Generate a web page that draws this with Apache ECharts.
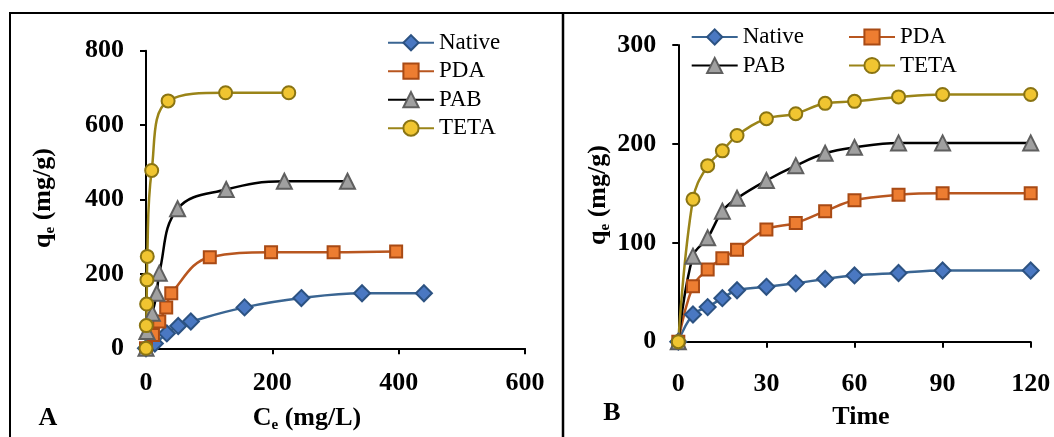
<!DOCTYPE html>
<html>
<head>
<meta charset="utf-8">
<script src="https://cdn.jsdelivr.net/npm/echarts@6/dist/echarts.min.js"></script>
<style>html,body{margin:0;padding:0;background:#fff}#c{width:1054px;height:437px}</style>
</head>
<body>
<div id="c"></div>
<script>
// Panel A: isotherm (Ce mg/L vs qe mg/g)
var seriesNames = ['Native', 'PDA', 'PAB', 'TETA'];
var ceNative = [0, 14, 33, 51, 71, 156, 246, 342, 440];
var qeNative = [0, 13, 40, 60, 72, 110, 135, 148, 148];
var cePDA = [0, 11, 21, 32, 40, 101, 198, 297, 396];
var qePDA = [0, 36, 72, 110, 148, 245, 258, 258, 260];
var cePAB = [0, 1.5, 10, 17, 21, 50, 127, 219, 319];
var qePAB = [0, 45, 94, 148, 202, 375, 427, 449, 449];
var ceTETA = [0, 0.5, 1, 1.5, 2, 9, 35, 126, 226];
var qeTETA = [0, 61, 119, 184, 247, 478, 665, 687, 687];

// Panel B: kinetics (time vs qe)
var time = [0, 5, 10, 15, 20, 30, 40, 50, 60, 75, 90, 120];
var qtNative = [0, 27.5, 35, 44, 52, 55.5, 59, 63.5, 67, 69.5, 72, 72];
var qtPDA = [0, 56, 73, 84.5, 93, 113.5, 120, 132, 143, 148.5, 150, 150];
var qtPAB = [0, 86.5, 105, 132, 145, 163, 178, 190.5, 196.5, 201, 201, 201];
var qtTETA = [0, 144, 178, 193, 208.5, 225.5, 230.5, 241, 243, 247.5, 250, 250];

var ticksA_x = [0, 200, 400, 600];
var ticksA_y = [0, 200, 400, 600, 800];
var ticksB_x = [0, 30, 60, 90, 120];
var ticksB_y = [0, 100, 200, 300];

function zip(a, b) { return a.map(function (v, i) { return [v, b[i]]; }); }

var styles = {
  Native: { line: '#3a6592', fill: '#4a78c2', border: '#2c5282', symbol: 'diamond', size: 16 },
  PDA: { line: '#b8561f', fill: '#ed7d31', border: '#a84a14', symbol: 'rect', size: 12 },
  PAB: { line: '#000000', fill: '#a0a0a0', border: '#5f5f5f', symbol: 'triangle', size: 15 },
  TETA: { line: '#9a8418', fill: '#f0c531', border: '#8a7413', symbol: 'circle', size: 13 }
};

var FONT = 'Liberation Serif';

function mk(name, data, axisIdx) {
  var s = styles[name];
  return {
    name: name, type: 'line', data: data,
    xAxisIndex: axisIdx, yAxisIndex: axisIdx,
    smooth: 0.4,
    symbol: s.symbol, symbolSize: s.size,
    lineStyle: { color: s.line, width: 2.5 },
    itemStyle: { color: s.fill, borderColor: s.border, borderWidth: 2 },
    emphasis: { disabled: true },
    animation: false
  };
}

var dataA = {
  Native: zip(ceNative, qeNative), PDA: zip(cePDA, qePDA),
  PAB: zip(cePAB, qePAB), TETA: zip(ceTETA, qeTETA)
};
var dataB = {
  Native: zip(time, qtNative), PDA: zip(time, qtPDA),
  PAB: zip(time, qtPAB), TETA: zip(time, qtTETA)
};

var series = [];
seriesNames.forEach(function (n) { series.push(mk(n, dataA[n], 0)); });
seriesNames.forEach(function (n) { series.push(mk(n, dataB[n], 1)); });

function valAxis(ticks, extra) {
  var o = {
    type: 'value',
    min: ticks[0], max: ticks[ticks.length - 1],
    interval: ticks[1] - ticks[0],
    axisLine: { show: true, lineStyle: { color: '#000', width: 2 } },
    axisTick: { show: true, inside: false, length: 6, lineStyle: { color: '#000', width: 2 } },
    splitLine: { show: false },
    axisLabel: { color: '#000', fontFamily: FONT, fontWeight: 'bold', fontSize: 26 }
  };
  for (var k in extra) o[k] = extra[k];
  return o;
}

var legendText = { color: '#000', fontFamily: FONT, fontSize: 23, lineHeight: 24 };
function legend(items, left, top) {
  return {
    data: items, left: left, top: top, orient: 'vertical',
    itemWidth: 46, itemHeight: 19, itemGap: 4.5,
    textStyle: legendText, selectedMode: false, padding: 0
  };
}

var rich = {
  b: { fontFamily: FONT, fontWeight: 'bold', fontSize: 26, fill: '#000', color: '#000' },
  s: { fontFamily: FONT, fontWeight: 'bold', fontSize: 15, fill: '#000', color: '#000', padding: [14, 0, 0, 0] }
};

function titleText(x, y, text, rot) {
  return {
    type: 'text', x: x, y: y, rotation: rot || 0,
    style: { text: text, rich: rich, align: 'center', verticalAlign: 'middle',
      fontFamily: FONT, fontWeight: 'bold', fontSize: 26, fill: '#000' }
  };
}

var option = {
  backgroundColor: '#fff',
  animation: false,
  grid: [
    { left: 146, top: 50.7, width: 379, height: 297.6, containLabel: false },
    { left: 678.3, top: 45, width: 352.4, height: 296.7, containLabel: false }
  ],
  xAxis: [
    valAxis(ticksA_x, { gridIndex: 0, axisLabel: { color: '#000', fontFamily: FONT, fontWeight: 'bold', fontSize: 26, margin: 22 } }),
    valAxis(ticksB_x, { gridIndex: 1, axisLabel: { color: '#000', fontFamily: FONT, fontWeight: 'bold', fontSize: 26, margin: 30 } })
  ],
  yAxis: [
    valAxis(ticksA_y, { gridIndex: 0, axisLabel: { color: '#000', fontFamily: FONT, fontWeight: 'bold', fontSize: 26, margin: 22 } }),
    valAxis(ticksB_y, { gridIndex: 1, axisLabel: { color: '#000', fontFamily: FONT, fontWeight: 'bold', fontSize: 26, margin: 22 } })
  ],
  legend: [
    legend(['Native', 'PDA', 'PAB', 'TETA'], 387, 30.7),
    legend(['Native', 'PAB'], 690.7, 25),
    legend(['PDA', 'TETA'], 848, 25)
  ],
  series: series,
  graphic: [
    { type: 'line', shape: { x1: 9, y1: 13, x2: 1054, y2: 13 }, style: { stroke: '#000', lineWidth: 2 } },
    { type: 'line', shape: { x1: 10, y1: 13, x2: 10, y2: 437 }, style: { stroke: '#000', lineWidth: 2 } },
    { type: 'line', shape: { x1: 563, y1: 13, x2: 563, y2: 437 }, style: { stroke: '#000', lineWidth: 2.5 } },
    titleText(307, 418, '{b|C}{s|e}{b| (mg/L)}'),
    titleText(43, 198, '{b|q}{s|e}{b| (mg/g)}', Math.PI / 2),
    titleText(861, 417, '{b|Time}'),
    titleText(598, 195, '{b|q}{s|e}{b| (mg/g)}', Math.PI / 2),
    titleText(48, 418, '{b|A}'),
    titleText(612, 413, '{b|B}')
  ]
};

var chart = echarts.init(document.getElementById('c'), null, { renderer: 'canvas' });
chart.setOption(option);
</script>
</body>
</html>
